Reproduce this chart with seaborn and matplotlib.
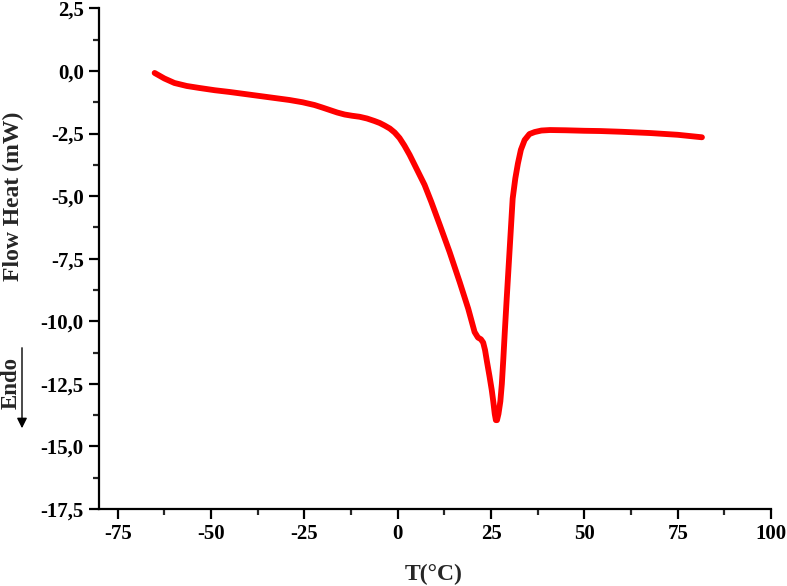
import matplotlib
matplotlib.use("Agg")
import matplotlib.pyplot as plt
import seaborn as sns
import pandas as pd
from matplotlib.ticker import MultipleLocator, FuncFormatter

temperature = [-65.1, -62.5, -59.8, -56.5, -53.1, -49.0, -45.0, -41.0, -37.0, -33.0, -29.0,
               -25.5, -22.3, -20.2, -18.2, -16.2, -14.2, -12.2, -10.2, -8.2, -6.2, -4.8,
               -3.5, -2.1, -0.8, 0.5, 1.8, 3.2, 5.2, 7.2, 9.0, 11.3, 13.9, 16.6, 18.9,
               20.6, 21.5, 22.3, 22.9, 23.4, 23.9, 24.6, 25.2, 25.6, 26.0, 26.3, 26.6,
               27.0, 27.5, 27.9, 28.3, 28.7, 29.2, 30.0, 30.8, 31.5, 32.2, 33.0, 34.0,
               35.3, 36.7, 38.5, 40.8, 45.0, 50.0, 54.2, 60.0, 67.6, 75.0, 81.5]
heat_flow = [-0.08, -0.30, -0.48, -0.60, -0.68, -0.77, -0.84, -0.92, -1.00, -1.08, -1.16,
             -1.25, -1.36, -1.46, -1.56, -1.66, -1.74, -1.79, -1.83, -1.90, -2.00, -2.08,
             -2.18, -2.30, -2.46, -2.68, -2.98, -3.35, -3.95, -4.55, -5.23, -6.16, -7.23,
             -8.43, -9.50, -10.43, -10.65, -10.72, -10.85, -11.15, -11.60, -12.20,
             -12.75, -13.20, -13.70, -13.95, -13.95, -13.70, -13.20, -12.50, -11.50, -10.40,
             -9.10, -7.10, -5.10, -4.30, -3.70, -3.15, -2.76, -2.52, -2.44, -2.38, -2.36,
             -2.37, -2.39, -2.40, -2.43, -2.48, -2.55, -2.65]

x_ticks = [-75, -50, -25, 0, 25, 50, 75, 100]
y_ticks = [2.5, 0.0, -2.5, -5.0, -7.5, -10.0, -12.5, -15.0, -17.5]

df = pd.DataFrame({"T": temperature, "HF": heat_flow})

sns.set_style("ticks")
plt.rcParams['font.family'] = ['Liberation Serif', 'DejaVu Serif']
plt.rcParams['font.weight'] = 'bold'

fig = plt.figure(figsize=(7.87, 5.86), dpi=100)
ax = fig.add_axes([0.1258, 0.1314, 0.8539, 0.8543])

sns.lineplot(data=df, x="T", y="HF", ax=ax, color="#ff0000", linewidth=4.2,
             sort=False, estimator=None)

ax.set_xlim(-80, 100)
ax.set_ylim(-17.5, 2.5)
ax.set_xticks(x_ticks)
ax.set_yticks(y_ticks)
ax.xaxis.set_minor_locator(MultipleLocator(12.5))
ax.yaxis.set_minor_locator(MultipleLocator(1.25))
ax.yaxis.set_major_formatter(FuncFormatter(lambda v, p: f"{v:.1f}".replace(".", ",")))
ax.xaxis.set_major_formatter(FuncFormatter(lambda v, p: f"{v:.0f}"))

for s in ["top", "right"]:
    ax.spines[s].set_visible(False)
for s in ["left", "bottom"]:
    ax.spines[s].set_linewidth(1.6)
    ax.spines[s].set_color("black")

ax.tick_params(axis="both", which="major", direction="out", length=7, width=1.6,
               labelsize=15, colors="black", pad=4)
ax.tick_params(axis="both", which="minor", direction="out", length=4.5, width=1.6)
for lab in ax.get_xticklabels() + ax.get_yticklabels():
    lab.set_fontweight("bold")

ax.set_xlabel("")
ax.set_ylabel("")
fig.text(434 / 787, 1 - 574 / 586, "T(°C)", ha="center", va="center",
         fontsize=17, fontweight="bold")
fig.text(13 / 787, 1 - 196 / 586, "Flow Heat (mW)", ha="center", va="center",
         rotation=90, fontsize=17, fontweight="bold")
fig.text(11 / 787, 1 - 383 / 586, "Endo", ha="center", va="center",
         rotation=90, fontsize=16.5, fontweight="bold")
fig.add_artist(matplotlib.patches.FancyArrowPatch(
    (22 / 787, 1 - 345 / 586), (22 / 787, 1 - 431 / 586),
    transform=fig.transFigure, arrowstyle="-|>,head_length=6,head_width=3",
    color="black", linewidth=1.0, mutation_scale=1))

fig.savefig("out.png", dpi=100)
